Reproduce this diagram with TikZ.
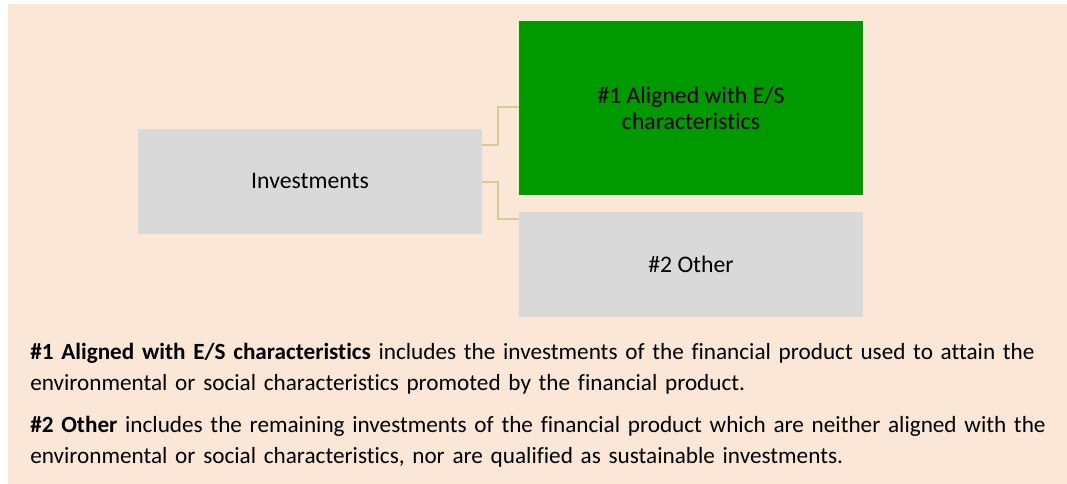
\documentclass[tikz,border=0pt]{standalone}
\usepackage{fontspec}
\setmainfont{Carlito}[Ligatures=NoCommon]
\definecolor{bg}{HTML}{FAE7D7}
\definecolor{boxgray}{HTML}{D9D9D9}
\definecolor{boxgreen}{HTML}{009900}
\definecolor{conn}{HTML}{D9CB94}
\tikzset{
  px/.style={x=0.75pt,y=-0.75pt},
  graybox/.style={fill=boxgray,draw=none},
  greenbox/.style={fill=boxgreen,draw=none},
  connline/.style={draw=conn,line width=1.6pt},
  lbl/.style={font=\fontsize{17.8}{19.5}\selectfont,align=center,text=black},
  para/.style={font=\fontsize{17.4}{23}\selectfont,align=left,text width=772pt,anchor=north west,inner sep=0pt}
}
\begin{document}
\begin{tikzpicture}[px]
\useasboundingbox (0,0) rectangle (1067,484);
\fill[bg] (8,4) rectangle (1067,484);
\path[graybox] (138,129) rectangle (482,234);
\path[greenbox] (519,21) rectangle (863,195);
\path[graybox] (519,212) rectangle (863,317);
\node[lbl] (inv) at (310,181) {Investments};
\node[lbl] (al) at (691,108) {\#1 Aligned with E/S\\characteristics};
\node[lbl] (oth) at (691,264) {\#2 Other};
\coordinate (invr1) at (482,145);
\coordinate (invr2) at (482,182);
\coordinate (all) at (519,107);
\coordinate (othl) at (519,219);
\draw[connline] (invr1) -- (498,145) |- (all);
\draw[connline] (invr2) -- (498,182) |- (othl);
\node[para] (p1) at (30,343) {\textbf{\#1 Aligned with E/S characteristics} includes the investments of the financial product used to attain the environmental or social characteristics promoted by the financial product.};
\node[para] (p2) at (30,416) {\textbf{\#2 Other} includes the remaining investments of the financial product which are neither aligned with the environmental or social characteristics, nor are qualified as sustainable investments.};
\end{tikzpicture}
\end{document}
